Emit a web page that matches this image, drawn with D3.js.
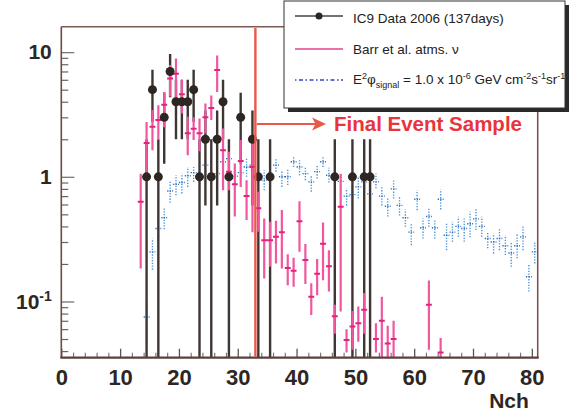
<!DOCTYPE html>
<html><head><meta charset="utf-8">
<script src="https://cdn.jsdelivr.net/npm/d3@7"></script>
<style>
body{margin:0;background:#fff;}
svg{display:block;font-family:"Liberation Sans",Arial,Helvetica,sans-serif;}
</style></head>
<body>
<svg id="chart" width="575" height="412"></svg>
<script>
// ---------- data (bin lower edges, Nch bins of width 1) ----------
const dataNch   = [14,15,16,17,18,19,20,21,22,23,24,25,26,27,28,30,32,33,35,46,49,51,52];
const dataCount = [1,5,1,3,7,4,4,4,5,1,2,1,2,4,1,3,2,1,1,1,1,1,1];
const dataErr   = [1,2.24,1,1.73,2.65,2,2,2,2.24,1,1.41,1,1.41,2,1,1.73,1.41,1,1,1,1,1,1];

const barrNch = [13,14,15,16,17,18,19,20,21,22,23,24,25,26,27,28,29,30,31,32,33,34,35,36,37,38,39,40,41,42,43,44,45,46,47,48,49,50,51,53,54,55,56,62,64];
const barrVal = [0.63,1.87,2.52,2.86,3.78,6.15,6.7,4.6,2.24,2.43,2.24,3.0,3.57,7.2,1.63,1.1,0.87,1.34,0.70,1.2,0.56,0.31,0.31,0.33,0.36,0.186,0.176,0.44,0.215,0.109,0.167,0.29,0.192,0.076,0.575,0.049,0.063,0.067,0.086,0.050,0.070,0.046,0.050,0.094,0.039];
const barrLo  = [0.184,1.07,1.63,1.97,2.5,4.4,4.2,3.22,1.49,1.97,1.6,2.23,2.85,4.8,0.78,0.78,0.48,0.83,0.45,0.36,0.362,0.153,0.19,0.202,0.184,0.135,0.131,0.25,0.138,0.078,0.112,0.148,0.12,0.055,0.083,0.039,0.041,0.0475,0.055,0.039,0.03,0.03,0.03,0.041,0.03];
const barrHi  = [1.06,2.75,3.43,3.75,4.8,7.87,8.9,6.0,3.03,3.0,2.94,3.88,4.5,9.4,2.44,1.59,1.28,1.97,0.94,2.03,0.758,0.464,0.436,0.445,0.541,0.239,0.224,0.638,0.289,0.14,0.219,0.431,0.258,0.094,1.06,0.06,0.084,0.091,0.117,0.067,0.109,0.064,0.07,0.147,0.051];

const sigNch = [14,15,16,17,18,19,20,21,22,23,24,25,26,27,28,29,30,31,32,33,34,35,36,37,38,39,40,41,42,43,44,45,46,47,48,49,50,51,52,53,54,55,56,57,58,59,60,61,62,63,64,65,66,67,68,69,70,71,72,73,74,75,76,77,78,79,80];
const sigVal = [0.075,0.25,0.385,0.47,0.77,0.87,0.90,1.02,1.08,1.0,1.24,1.06,1.06,1.32,1.40,1.01,1.08,1.2,1.24,1.01,0.94,1.0,1.24,1.0,1.0,1.32,1.2,1.06,0.91,1.1,1.32,1.03,0.97,0.92,0.70,0.72,0.83,0.91,0.73,0.91,0.70,0.58,0.80,0.59,0.47,0.36,0.66,0.39,0.48,0.39,0.66,0.34,0.36,0.40,0.385,0.42,0.46,0.40,0.32,0.30,0.32,0.28,0.245,0.28,0.33,0.158,0.25];
const sigLo  = [0.046,0.18,0.292,0.379,0.62,0.71,0.736,0.83,0.91,0.85,1.03,0.86,0.88,1.1,1.2,0.86,0.9,1.0,1.1,0.88,0.78,0.88,1.1,0.83,0.86,1.2,1.03,0.94,0.76,0.97,1.2,0.9,0.85,0.8,0.59,0.6,0.67,0.78,0.62,0.81,0.59,0.48,0.67,0.49,0.397,0.283,0.54,0.32,0.397,0.32,0.548,0.258,0.301,0.33,0.301,0.327,0.374,0.33,0.267,0.243,0.258,0.236,0.19,0.222,0.258,0.12,0.202];
const sigHi  = [0.103,0.32,0.478,0.558,0.912,1.03,1.065,1.2,1.2,1.15,1.49,1.36,1.28,1.59,1.59,1.2,1.28,1.42,1.4,1.18,1.13,1.15,1.38,1.13,1.15,1.45,1.36,1.2,1.03,1.24,1.45,1.18,1.12,1.05,0.81,0.85,1.0,1.05,0.86,1.065,0.83,0.67,0.94,0.7,0.548,0.42,0.78,0.464,0.568,0.45,0.79,0.42,0.436,0.478,0.464,0.524,0.558,0.478,0.362,0.351,0.386,0.34,0.301,0.351,0.41,0.196,0.301];

const xTickMajor = [0,10,20,30,40,50,60,70,80];
const yTickMajor = [0.1,1,10];
const cutNch = 33;
const legendLabels = ["IC9 Data 2006 (137days)", "Barr et al. atms. \u03BD"];
const xTitle = "Nch";
const cutLabel = "Final Event Sample";

// ---------- drawing ----------
const svg = d3.select("#chart");
const L = 61.3, R = 537.7, T = 26.7, B = 357.7;
const x = d3.scaleLinear().domain([0,81]).range([L,R]);
const y = d3.scaleLog().domain([0.0354,16]).range([B,T]);
const yMin = y.domain()[0], yMax = y.domain()[1];
const cy = v => y(Math.max(yMin, Math.min(yMax, v)));
const bw = x(1)-x(0);

svg.append("rect").attr("width",575).attr("height",412).attr("fill","#fff");

const plot = svg.append("g");
plot.append("clipPath").attr("id","clip").append("rect").attr("x",L).attr("y",T).attr("width",R-L).attr("height",B-T);
const g = plot.append("g").attr("clip-path","url(#clip)");

// signal (blue dotted)
const sig = sigNch.map((n,i)=>({n,v:sigVal[i],lo:sigLo[i],hi:sigHi[i]}));
g.append("g").selectAll("line.sv").data(sig).join("line")
  .attr("x1",d=>x(d.n+0.5)).attr("x2",d=>x(d.n+0.5))
  .attr("y1",d=>cy(d.lo)).attr("y2",d=>cy(d.hi))
  .attr("stroke","#4a94d6").attr("stroke-width",1.4).attr("stroke-dasharray","1.3,1.5");
g.append("g").selectAll("line.sh").data(sig).join("line")
  .attr("x1",d=>x(d.n)).attr("x2",d=>x(d.n+1))
  .attr("y1",d=>cy(d.v)).attr("y2",d=>cy(d.v))
  .attr("stroke","#2a6cbf").attr("stroke-width",1.4).attr("stroke-dasharray","1.3,1.2");

// data error bars
const dat = dataNch.map((n,i)=>({n,v:dataCount[i],e:dataErr[i]}));
g.append("g").selectAll("line").data(dat).join("line")
  .attr("x1",d=>x(d.n+0.5)).attr("x2",d=>x(d.n+0.5))
  .attr("y1",d=>cy(d.v-d.e)).attr("y2",d=>cy(d.v+d.e))
  .attr("stroke","#3d3633").attr("stroke-width",2.4);

// Barr atmospheric (pink)
const barr = barrNch.map((n,i)=>({n,v:barrVal[i],lo:barrLo[i],hi:barrHi[i]}));
g.append("g").selectAll("line").data(barr).join("line")
  .attr("x1",d=>x(d.n+0.5)).attr("x2",d=>x(d.n+0.5))
  .attr("y1",d=>cy(d.lo)).attr("y2",d=>cy(d.hi))
  .attr("stroke","#f0579f").attr("stroke-width",2.2);
g.append("g").selectAll("line").data(barr).join("line")
  .attr("x1",d=>x(d.n+0.5)-bw/2).attr("x2",d=>x(d.n+0.5)+bw/2)
  .attr("y1",d=>cy(d.v)).attr("y2",d=>cy(d.v))
  .attr("stroke","#e3217f").attr("stroke-width",2);

// data dots
g.append("g").selectAll("circle").data(dat).join("circle")
  .attr("cx",d=>x(d.n+0.5)).attr("cy",d=>cy(d.v)).attr("r",4.5)
  .attr("fill","#2d2622");

// axes
const axisColor = "#5a3f3a";
const xAxisMinor = d3.axisBottom(x).tickValues(d3.range(0,81,2).filter(v=>v%10)).tickSize(-5).tickFormat("");
svg.append("g").attr("transform",`translate(0,${B})`).call(xAxisMinor)
  .call(s=>s.select(".domain").remove()).selectAll("line").attr("stroke","#777").attr("stroke-width",1.2);
const xAxis = d3.axisBottom(x).tickValues(xTickMajor).tickSize(-9).tickPadding(11.5).tickFormat(d3.format("d"));
const xg = svg.append("g").attr("transform",`translate(0,${B})`).call(xAxis);
xg.select(".domain").remove();
xg.selectAll("line").attr("stroke","#555").attr("stroke-width",1.3);
xg.selectAll("text").attr("font-size",22).attr("font-weight","bold").attr("fill","#2e2622")
  .attr("font-family","'Liberation Sans',Arial,sans-serif");

const minorY = [];
[0.01,0.1,1].forEach(b=>{for(let k=2;k<=9;k++){const v=b*k; if(v>yMin && v<yMax) minorY.push(v);}});
const yAxisMinor = d3.axisLeft(y).tickValues(minorY).tickSize(-7).tickFormat("");
svg.append("g").attr("transform",`translate(${L},0)`).call(yAxisMinor)
  .call(s=>s.select(".domain").remove()).selectAll("line").attr("stroke","#666").attr("stroke-width",1.2);
const yAxis = d3.axisLeft(y).tickValues(yTickMajor).tickSize(-13).tickPadding(9.5).tickFormat(d=> d===0.1 ? "10" : d3.format("d")(d));
const yg = svg.append("g").attr("transform",`translate(${L},0)`).call(yAxis);
yg.select(".domain").remove();
yg.selectAll("line").attr("stroke","#777").attr("stroke-width",1.3);
yg.selectAll("text").attr("font-size",21).attr("font-weight","bold").attr("fill","#2e2622")
  .attr("font-family","'Liberation Sans',Arial,sans-serif")
  .each(function(d){
    if(d===0.1){
      const t=d3.select(this); t.text(null).attr("dx",0);
      t.append("tspan").text("10");
      t.append("tspan").attr("dy","-0.55em").attr("font-size",14).text("-1");
    }
  });

// frame
svg.append("line").attr("x1",L).attr("x2",R).attr("y1",T).attr("y2",T).attr("stroke","#7a5a52").attr("stroke-width",1.5);
svg.append("line").attr("x1",R).attr("x2",R).attr("y1",T).attr("y2",B).attr("stroke","#7a4a44").attr("stroke-width",1.5);
svg.append("line").attr("x1",L).attr("x2",L).attr("y1",T).attr("y2",B).attr("stroke","#6e4a44").attr("stroke-width",1.6);
svg.append("line").attr("x1",L-1).attr("x2",R+1).attr("y1",B).attr("y2",B).attr("stroke",axisColor).attr("stroke-width",2.2);

// x title
svg.append("text").attr("x",509).attr("y",408).attr("text-anchor","middle")
  .attr("font-size",21).attr("font-weight","bold").attr("fill","#2e2622").text(xTitle);

// cut line and arrow
const xc = x(cutNch);
svg.append("line").attr("x1",xc).attr("x2",xc).attr("y1",28).attr("y2",B-1)
  .attr("stroke","#e9584a").attr("stroke-width",2.4);
const ay = 124;
svg.append("line").attr("x1",xc+1.5).attr("x2",322).attr("y1",ay).attr("y2",ay)
  .attr("stroke","#e9584a").attr("stroke-width",2);
svg.append("path").attr("d",`M326,${ay} L312,${ay-6.5} L315.5,${ay} L312,${ay+6.5} Z`).attr("fill","#e9584a");
svg.append("text").attr("x",334).attr("y",130.5).attr("font-size",20.5).attr("font-weight","bold")
  .attr("fill","#e8343a").text(cutLabel);

// legend
const lx=284, ly=1, lw=281, lh=107;
svg.append("rect").attr("x",lx+4).attr("y",ly+4).attr("width",lw).attr("height",lh).attr("fill","#2a2a2a");
svg.append("rect").attr("x",lx).attr("y",ly).attr("width",lw).attr("height",lh).attr("fill","#fff").attr("stroke","#333").attr("stroke-width",1);
const ys=[16,49,80];
svg.append("line").attr("x1",295).attr("x2",343).attr("y1",ys[0]).attr("y2",ys[0]).attr("stroke","#444").attr("stroke-width",1.4);
svg.append("circle").attr("cx",319).attr("cy",ys[0]).attr("r",3.5).attr("fill","#2d2622");
svg.append("line").attr("x1",295).attr("x2",343).attr("y1",ys[1]).attr("y2",ys[1]).attr("stroke","#e8408f").attr("stroke-width",1.6);
svg.append("line").attr("x1",295).attr("x2",343).attr("y1",ys[2]).attr("y2",ys[2]).attr("stroke","#3344bb").attr("stroke-width",1.3).attr("stroke-dasharray","1.5,2.5,4,2.5");
const lt = svg.append("g").attr("font-size",13.5).attr("fill","#222");
lt.append("text").attr("x",353).attr("y",22.5).text(legendLabels[0]);
lt.append("text").attr("x",353).attr("y",53.5).text(legendLabels[1]);
const t3 = lt.append("text").attr("x",353).attr("y",84);
t3.append("tspan").text("E");
t3.append("tspan").attr("dy",-5.5).attr("font-size",9).text("2");
t3.append("tspan").attr("dy",5.5).text("\u03C6");
t3.append("tspan").attr("dy",4).attr("font-size",9).text("signal");
t3.append("tspan").attr("dy",-4).text(" = 1.0 x 10");
t3.append("tspan").attr("dy",-5.5).attr("font-size",9).text("-6");
t3.append("tspan").attr("dy",5.5).text(" GeV cm");
t3.append("tspan").attr("dy",-5.5).attr("font-size",9).text("-2");
t3.append("tspan").attr("dy",5.5).text("s");
t3.append("tspan").attr("dy",-5.5).attr("font-size",9).text("-1");
t3.append("tspan").attr("dy",5.5).text("sr");
t3.append("tspan").attr("dy",-5.5).attr("font-size",9).text("-1");
</script>
</body></html>
